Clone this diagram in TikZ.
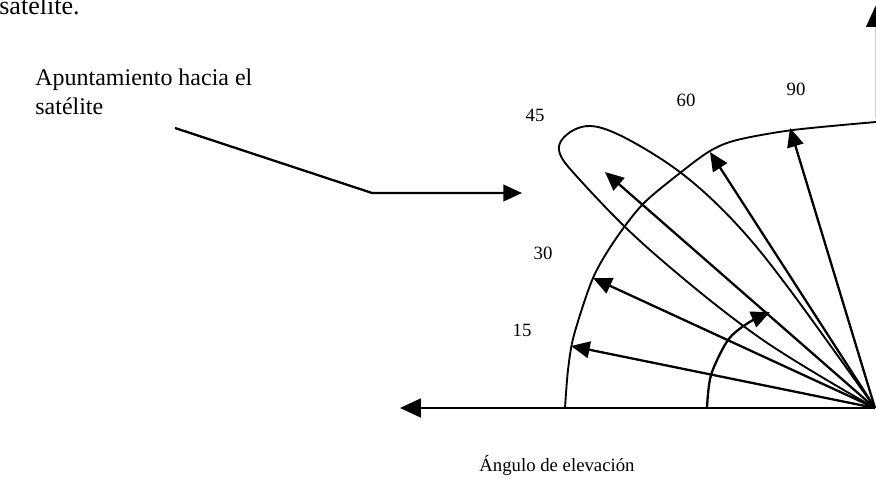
\documentclass[tikz,border=0pt]{standalone}
\usepackage{fontspec}
\setmainfont{Liberation Serif}
\usetikzlibrary{arrows.meta}

\begin{document}
\begin{tikzpicture}[
    x=0.48pt, y=-0.48pt,
    % Texto del párrafo
    texto/.style={font=\fontsize{11.5}{14}\selectfont, inner sep=0pt, align=left},
    % Rótulos de los ángulos
    rotulo/.style={font=\fontsize{9}{10}\selectfont, inner sep=0pt},
    % Flechas de elevación
    flecha/.style={draw, line width=1.1pt, -{Triangle[length=9pt, width=8pt]}},
    curva/.style={draw, line width=0.9pt}
]
\useasboundingbox (0,0) rectangle (876,504);

% ---- TEXTO ----
\node[texto, anchor=base east, font=\fontsize{12.5}{14}\selectfont] (arriba) at (80,15) {satélite.};
\node[texto, anchor=north west] (apunta) at (35,68) {Apuntamiento hacia el\\satélite};

% ---- PUNTERO ----
\coordinate (p_ini)  at (175,128);
\coordinate (p_codo) at (372,193);
\coordinate (p_fin)  at (522,193);
\draw[flecha] (p_ini) -- (p_codo) -- (p_fin);

% ---- EJES ----
\coordinate (O)      at (875,408);
\coordinate (ejeX)   at (400,408);
\coordinate (ejeY_a) at (875.5,118);
\coordinate (ejeY_b) at (875.5,6);
\draw[flecha, -{Triangle[length=10pt, width=9pt]}] (O) -- (ejeX);
\draw[gray!35, line width=0.6pt, -{Triangle[length=10pt, width=9pt, color=black]}] (ejeY_a) -- (ejeY_b);

% ---- CURVAS ----
% arco exterior
\draw[curva] plot[smooth] coordinates {(565,408) (568,370) (574,335) (593,278)
    (615,240) (643,204) (680,173) (710,151) (737,140) (793,130) (876,122)};
% lóbulo de la antena
\draw[curva] plot[smooth, tension=0.6] coordinates {(875,408) (760,338)
    (650,250) (580,180) (559,150) (572,131) (598,127) (640,146)
    (690,180) (740,228) (790,290) (875,408)};
% arco del ángulo
\draw[flecha] plot[smooth] coordinates {(707,408) (711,375) (728,340) (748,323) (770,312)};

% ---- ÁNGULOS DE ELEVACIÓN ----
\coordinate (e15) at (571,346);
\coordinate (e30) at (593,278);
\coordinate (e45) at (605,172);
\coordinate (e60) at (710,152);
\coordinate (e90) at (790,128);
\foreach \e in {e15,e30,e45,e60,e90}
    \draw[flecha] (O) -- (\e);

\node[rotulo] (r15) at (522,330) {15};
\node[rotulo] (r30) at (543,253) {30};
\node[rotulo] (r45) at (535,115) {45};
\node[rotulo] (r60) at (686,100) {60};
\node[rotulo] (r90) at (796,89)  {90};

\node[rotulo] (titulo) at (557,465) {Ángulo de elevación};

\end{tikzpicture}
\end{document}
